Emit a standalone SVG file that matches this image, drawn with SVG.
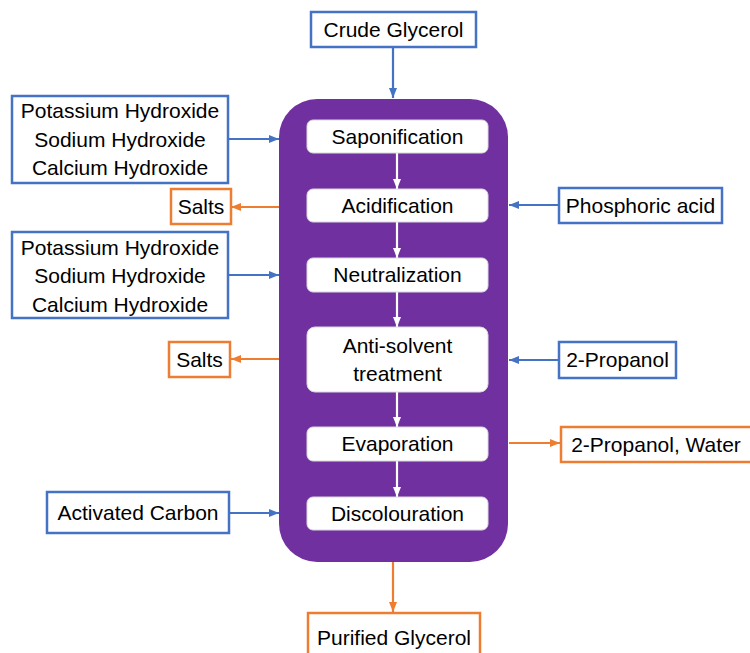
<svg xmlns="http://www.w3.org/2000/svg" width="750" height="653" viewBox="0 0 750 653">
<defs>
<style>
.t{font-family:"Liberation Sans",Arial,sans-serif;font-size:21px;fill:#000;text-anchor:middle}
.bb{fill:#fff;stroke:#4472C4;stroke-width:2.5}
.ob{fill:#fff;stroke:#ED7D31;stroke-width:2.5}
.step{fill:#fff;stroke:#d9d9d9;stroke-width:1}
.bl{stroke:#4472C4;stroke-width:2.2;fill:none;marker-end:url(#ab)}
.ol{stroke:#ED7D31;stroke-width:2.2;fill:none;marker-end:url(#ao)}
.wl{stroke:#fff;stroke-width:2.2;fill:none;marker-end:url(#aw)}
</style>
<marker id="ab" markerUnits="userSpaceOnUse" markerWidth="10" markerHeight="8" refX="10" refY="4" orient="auto"><path d="M0,0 L10,4 L0,8 z" fill="#4472C4"/></marker>
<marker id="ao" markerUnits="userSpaceOnUse" markerWidth="10" markerHeight="8" refX="10" refY="4" orient="auto"><path d="M0,0 L10,4 L0,8 z" fill="#ED7D31"/></marker>
<marker id="aw" markerUnits="userSpaceOnUse" markerWidth="10" markerHeight="8" refX="10" refY="4" orient="auto"><path d="M0,0 L10,4 L0,8 z" fill="#fff"/></marker>
</defs>
<rect width="750" height="653" fill="#fff"/>

<g id="container">
<rect x="279" y="99" width="229" height="463" rx="38" ry="38" fill="#7030A0"/>
</g>

<g id="connectors">
<line class="bl" x1="393" y1="47" x2="393" y2="98"/>
<line class="bl" x1="229" y1="139" x2="279" y2="139"/>
<line class="ol" x1="279" y1="207" x2="231" y2="207"/>
<line class="bl" x1="229" y1="275" x2="279" y2="275"/>
<line class="ol" x1="279" y1="359" x2="231" y2="359"/>
<line class="bl" x1="229" y1="513" x2="279" y2="513"/>
<line class="bl" x1="559" y1="205" x2="509" y2="205"/>
<line class="bl" x1="559" y1="360" x2="509" y2="360"/>
<line class="ol" x1="509" y1="443" x2="560" y2="443"/>
<line class="ol" x1="393" y1="562" x2="393" y2="612"/>
<line class="wl" x1="397" y1="153" x2="397" y2="189"/>
<line class="wl" x1="397" y1="222" x2="397" y2="258"/>
<line class="wl" x1="397" y1="292" x2="397" y2="327"/>
<line class="wl" x1="397" y1="392" x2="397" y2="427"/>
<line class="wl" x1="397" y1="461" x2="397" y2="497"/>
</g>

<g id="crude-glycerol"><rect class="bb" x="311" y="12" width="165" height="35"/><text class="t" x="393.5" y="37">Crude Glycerol</text></g>

<g id="hydroxides-1"><rect class="bb" x="12" y="96" width="216" height="87"/>
<text class="t" x="120" y="118">Potassium Hydroxide</text>
<text class="t" x="120" y="147">Sodium Hydroxide</text>
<text class="t" x="120" y="175">Calcium Hydroxide</text></g>

<g id="salts-1"><rect class="ob" x="171" y="189" width="60" height="35"/><text class="t" x="201" y="214">Salts</text></g>

<g id="hydroxides-2"><rect class="bb" x="12" y="232" width="216" height="86"/>
<text class="t" x="120" y="255">Potassium Hydroxide</text>
<text class="t" x="120" y="283">Sodium Hydroxide</text>
<text class="t" x="120" y="312">Calcium Hydroxide</text></g>

<g id="salts-2"><rect class="ob" x="169" y="342" width="61" height="35"/><text class="t" x="199.5" y="367">Salts</text></g>

<g id="activated-carbon"><rect class="bb" x="47" y="492" width="182" height="41"/><text class="t" x="138" y="520">Activated Carbon</text></g>

<g id="phosphoric-acid"><rect class="bb" x="559" y="188" width="163" height="35"/><text class="t" x="640.5" y="213">Phosphoric acid</text></g>

<g id="propanol"><rect class="bb" x="559" y="342" width="117" height="36"/><text class="t" x="617.5" y="367">2-Propanol</text></g>

<g id="propanol-water"><rect class="ob" x="561" y="427" width="200" height="35"/><text class="t" x="656" y="452">2-Propanol, Water</text></g>

<g id="purified-glycerol"><rect class="ob" x="308" y="613" width="172" height="46"/><text class="t" x="394" y="645">Purified Glycerol</text></g>

<g id="saponification"><rect class="step" x="307" y="120" width="181" height="33" rx="6"/><text class="t" x="397.5" y="144">Saponification</text></g>
<g id="acidification"><rect class="step" x="307" y="189" width="181" height="33" rx="6"/><text class="t" x="397.5" y="213">Acidification</text></g>
<g id="neutralization"><rect class="step" x="307" y="258" width="181" height="34" rx="6"/><text class="t" x="397.5" y="282">Neutralization</text></g>
<g id="anti-solvent"><rect class="step" x="307" y="327" width="181" height="65" rx="8"/><text class="t" x="397.5" y="353">Anti-solvent</text><text class="t" x="397.5" y="381">treatment</text></g>
<g id="evaporation"><rect class="step" x="307" y="427" width="181" height="34" rx="6"/><text class="t" x="397.5" y="451">Evaporation</text></g>
<g id="discolouration"><rect class="step" x="307" y="497" width="181" height="33" rx="6"/><text class="t" x="397.5" y="521">Discolouration</text></g>
</svg>
